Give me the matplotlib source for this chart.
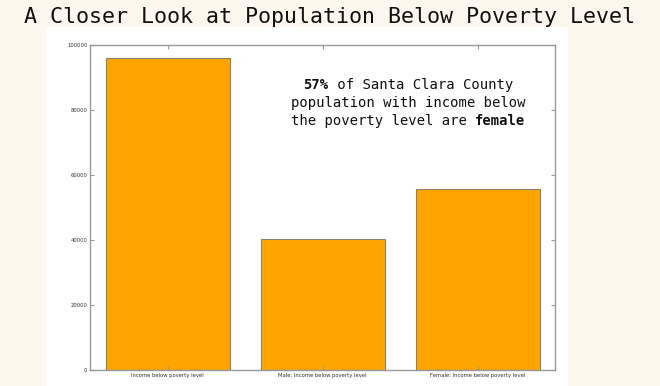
import matplotlib
matplotlib.use('Agg')
import matplotlib.pyplot as plt
import matplotlib.patches as patches

categories = ['Income below poverty level', 'Male: Income below poverty level',
              'Female: Income below poverty level']
values = [96000, 40400, 55600]
yticks = [0, 20000, 40000, 60000, 80000, 100000]

W, H = 660, 386
fig = plt.figure(figsize=(W / 100, H / 100), dpi=100)
fig.patch.set_facecolor('#fdf8ed')

# white "image" panel behind the axes
fig.patches.append(patches.Rectangle((46 / W, 0), 522 / W, 359 / H, transform=fig.transFigure,
                                     facecolor='white', edgecolor='none', zorder=-5))

fig.text(329 / W, 1 - 17 / H, 'A Closer Look at Population Below Poverty Level',
         family='DejaVu Sans Mono', fontsize=15.6, ha='center', va='center', color='#111111')

ax = fig.add_axes([90 / W, 16 / H, 465 / W, 325 / H])
ax.bar(range(len(values)), values, width=0.8, color='#ffa500', edgecolor='#8a8070', lw=0.8)
ax.set_xlim(-0.5, 2.5)
ax.set_ylim(0, 100000)
ax.set_yticks(yticks)
ax.set_xticks(range(len(categories)))
ax.set_xticklabels(categories)
ax.tick_params(direction='in', top=True, right=True, labelsize=3.8, length=3,
               color='#999999', labelcolor='#333333', pad=2)
for s in ax.spines.values():
    s.set_color('#999999')
    s.set_linewidth(1.0)

# annotation: monospace lines with bold pieces, centered at x=408 px
cw = 10 / 72 * 100 * 0.602
lines = [
    (85, [('57%', 'bold'), (' of Santa Clara County', 'normal')]),
    (103, [('population with income below', 'normal')]),
    (121, [('the poverty level are ', 'normal'), ('female', 'bold')]),
]
cx = 408
for y, parts in lines:
    n = sum(len(t) for t, _ in parts)
    x = cx - n * cw / 2
    for t, w in parts:
        fig.text(x / W, 1 - y / H, t, family='DejaVu Sans Mono', fontsize=10,
                 fontweight=w, ha='left', va='center', color='#111111')
        x += len(t) * cw

fig.savefig('out.png', dpi=100, facecolor=fig.get_facecolor())
